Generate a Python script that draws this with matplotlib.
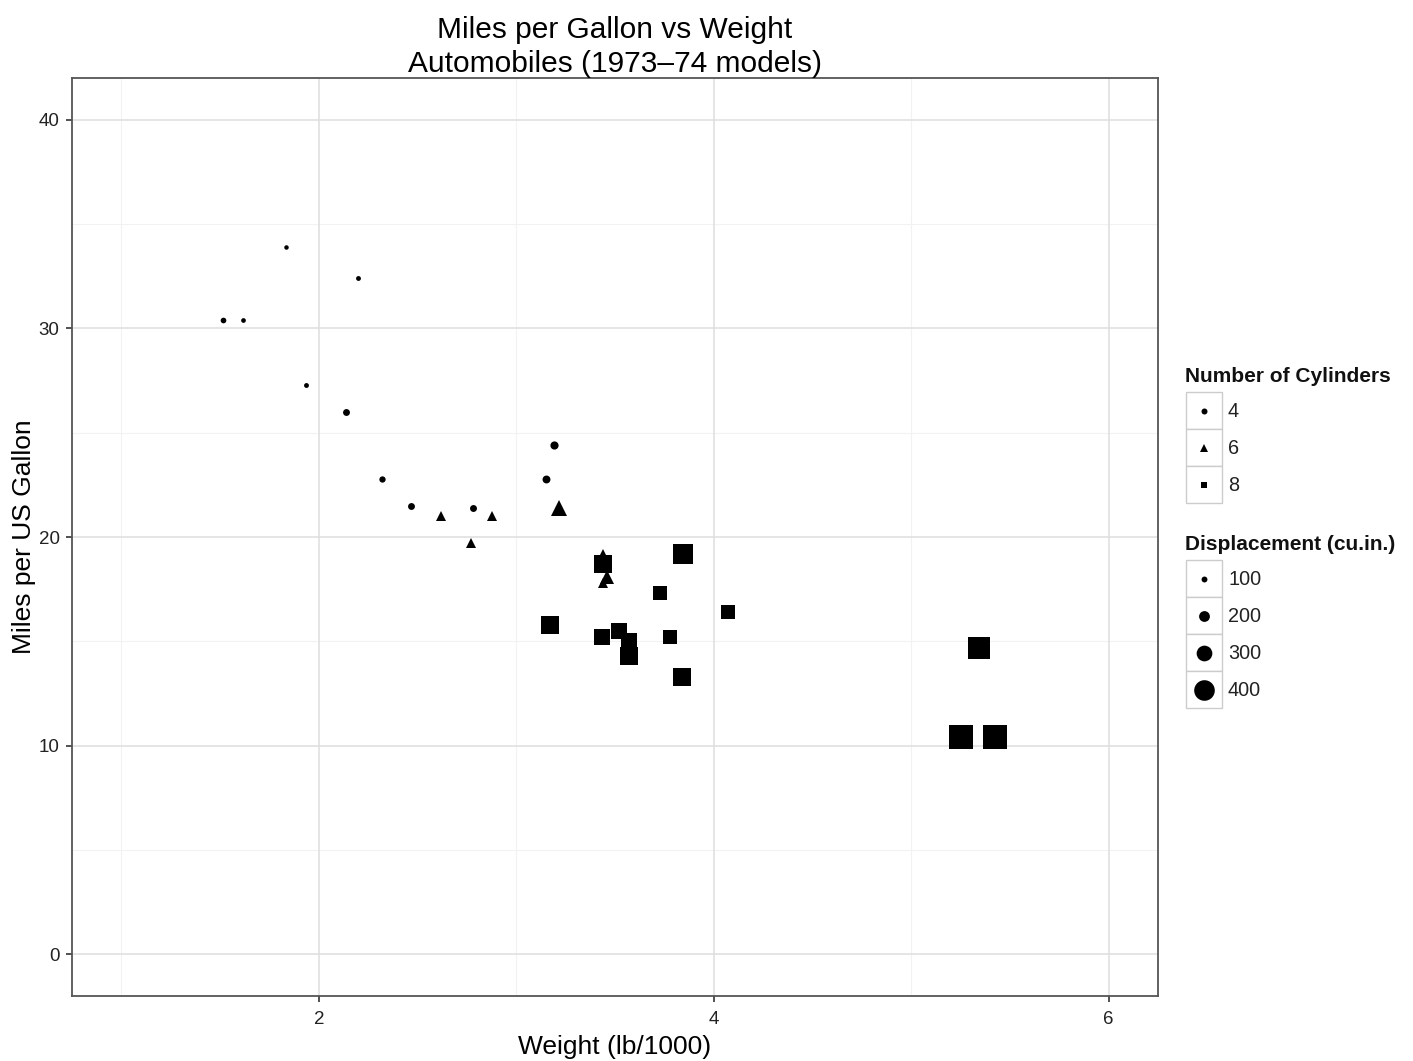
import matplotlib
matplotlib.use("Agg")
import matplotlib.pyplot as plt
import numpy as np
from matplotlib.patches import Rectangle

plt.rcParams['font.family'] = ['Liberation Sans', 'DejaVu Sans']

# mtcars data
wt = [2.620, 2.875, 2.320, 3.215, 3.440, 3.460, 3.570, 3.190, 3.150, 3.440,
      3.440, 4.070, 3.730, 3.780, 5.250, 5.424, 5.345, 2.200, 1.615, 1.835,
      2.465, 3.520, 3.435, 3.840, 3.845, 1.935, 2.140, 1.513, 3.170, 2.770,
      3.570, 2.780]
mpg = [21.0, 21.0, 22.8, 21.4, 18.7, 18.1, 14.3, 24.4, 22.8, 19.2,
       17.8, 16.4, 17.3, 15.2, 10.4, 10.4, 14.7, 32.4, 30.4, 33.9,
       21.5, 15.5, 15.2, 13.3, 19.2, 27.3, 26.0, 30.4, 15.8, 19.7,
       15.0, 21.4]
cyl = [6, 6, 4, 6, 8, 6, 8, 4, 4, 6,
       6, 8, 8, 8, 8, 8, 8, 4, 4, 4,
       4, 8, 8, 8, 8, 4, 4, 4, 8, 6,
       8, 4]
disp = [160, 160, 108, 258, 360, 225, 360, 146.7, 140.8, 167.6,
        167.6, 275.8, 275.8, 275.8, 472, 460, 440, 78.7, 75.7, 71.1,
        120.1, 318, 304, 350, 400, 79, 120.3, 95.1, 351, 145,
        301, 121]

cyl_levels = [4, 6, 8]
cyl_labels = ["4", "6", "8"]
disp_breaks = [100, 200, 300, 400]
disp_labels = ["100", "200", "300", "400"]
x_ticks = [2, 4, 6]
y_ticks = [0, 10, 20, 30, 40]

W, H, DPI = 1413, 1061, 100
fig = plt.figure(figsize=(W / DPI, H / DPI), dpi=DPI)
px2pt = 72.0 / DPI

shape_map = {4: 'o', 6: '^', 8: 's'}
shape_scale = {4: 1.0, 6: 1.18, 8: 1.0}


def size_px(d):
    return 1.0 + 0.049 * d


ax_l, ax_r, ax_t, ax_b = 72, 1158, 78, 996
ax = fig.add_axes([ax_l / W, 1 - ax_b / H, (ax_r - ax_l) / W, (ax_b - ax_t) / H])
ax.set_xlim(0.75, 6.25)
ax.set_ylim(-2, 42)

for x in [1, 3, 5]:
    ax.axvline(x, color='#f2f2f2', lw=0.8, zorder=0)
for y in [5, 15, 25, 35]:
    ax.axhline(y, color='#f2f2f2', lw=0.8, zorder=0)
for x in x_ticks:
    ax.axvline(x, color='#dedede', lw=1.1, zorder=0)
for y in y_ticks:
    ax.axhline(y, color='#dedede', lw=1.1, zorder=0)

for xi, yi, c, d in zip(wt, mpg, cyl, disp):
    ms = size_px(d) * shape_scale[c] * px2pt
    ax.plot([xi], [yi], marker=shape_map[c], ms=ms, color='black',
            markeredgewidth=0, linestyle='none', zorder=3)

ax.set_xticks(x_ticks)
ax.set_xticklabels([str(v) for v in x_ticks])
ax.set_yticks(y_ticks)
ax.set_yticklabels([str(v) for v in y_ticks])
ax.tick_params(axis='both', direction='out', length=4, width=1.2, color='#333333',
               labelsize=13.5, labelcolor='#222222')
ax.tick_params(axis='x', pad=7)
ax.tick_params(axis='y', pad=5)
for s in ax.spines.values():
    s.set_color('#555555')
    s.set_linewidth(1.3)

ax.set_xlabel("Weight (lb/1000)", fontsize=19, labelpad=5)
ax.set_ylabel("Miles per US Gallon", fontsize=19, labelpad=2)
ax.set_title("Miles per Gallon vs Weight\nAutomobiles (1973\u201374 models)",
             fontsize=21.5, pad=4, linespacing=1.28)

# Legend overlay in pixel coordinates
lg = fig.add_axes([0, 0, 1, 1], zorder=5)
lg.set_xlim(0, W)
lg.set_ylim(H, 0)
lg.axis('off')
lg.patch.set_alpha(0)

kx0, kw, kh = 1186, 36, 37
# Cylinders legend
lg.text(1185, 377, "Number of Cylinders", fontsize=15, fontweight='bold',
        va='center', ha='left', color='#111111')
top = 392
for i, (lev, lab) in enumerate(zip(cyl_levels, cyl_labels)):
    y0 = top + i * kh
    lg.add_patch(Rectangle((kx0, y0), kw, kh, facecolor='white', edgecolor='#cccccc', lw=1.0))
    ms = 6 * shape_scale[lev] * px2pt
    lg.plot([kx0 + kw / 2], [y0 + kh / 2], marker=shape_map[lev], ms=ms,
            color='black', markeredgewidth=0, linestyle='none')
    lg.text(kx0 + kw + 6, y0 + kh / 2 + 1, lab, fontsize=14.3, va='center', ha='left',
            color='#222222')

# Displacement legend
lg.text(1185, 545, "Displacement (cu.in.)", fontsize=15, fontweight='bold',
        va='center', ha='left', color='#111111')
top = 560
for i, (b, lab) in enumerate(zip(disp_breaks, disp_labels)):
    y0 = top + i * kh
    lg.add_patch(Rectangle((kx0, y0), kw, kh, facecolor='white', edgecolor='#cccccc', lw=1.0))
    ms = size_px(b) * px2pt
    lg.plot([kx0 + kw / 2], [y0 + kh / 2], marker='o', ms=ms,
            color='black', markeredgewidth=0, linestyle='none')
    lg.text(kx0 + kw + 6, y0 + kh / 2 + 1, lab, fontsize=14.3, va='center', ha='left',
            color='#222222')

fig.savefig("out.png", dpi=DPI)
